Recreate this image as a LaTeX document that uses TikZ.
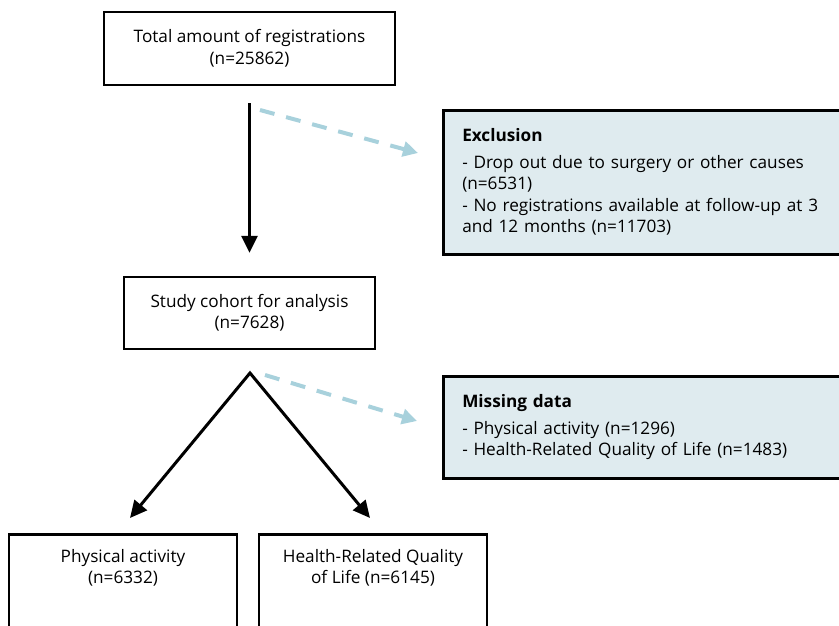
\documentclass[tikz,border=0pt]{standalone}
\usepackage{fontspec}
\setmainfont{Open Sans}
\usetikzlibrary{arrows.meta}
\definecolor{panelfill}{HTML}{DFEBEF}
\definecolor{skipline}{HTML}{A8D1DC}
\begin{document}
\begin{tikzpicture}[x=1pt,y=-1pt,
  font=\fontsize{17.2}{21.5}\selectfont,
  stagebox/.style={draw=black, line width=2.5pt, fill=white, align=center, inner sep=0pt},
  notebox/.style={draw=black, line width=2.5pt, fill=panelfill, align=left,
    inner xsep=19pt, inner ysep=0pt, anchor=north west},
  flow/.style={line width=3pt, -{Triangle[length=17pt,width=16pt]}},
  skip/.style={draw=skipline, line width=4pt, dash pattern=on 15pt off 12pt,
    -{Triangle[length=15pt,width=15pt]}},
]
\useasboundingbox (0,0) rectangle (839,625);
\clip (0,0) rectangle (839,625);

% main stages
\node[stagebox, minimum width=291pt, minimum height=73pt] (total) at (249.5,48.5)
  {Total amount of registrations\\(n=25862)};
\node[stagebox, minimum width=251pt, minimum height=72pt] (cohort) at (249.5,313)
  {Study cohort for analysis\\(n=7628)};

% outcome boxes, open towards the bottom edge
\node[stagebox, minimum width=228pt, minimum height=130pt, anchor=north] (pa) at (123,533)
  {};
\node[align=center, anchor=north, inner sep=0pt] (patext) at ([yshift=-16pt]pa.north)
  {Physical activity\\(n=6332)};
\node[stagebox, minimum width=228pt, minimum height=130pt, anchor=north] (hrql) at (373,533)
  {};
\node[align=center, anchor=north, inner sep=0pt] (hrqltext) at ([yshift=-16pt]hrql.north)
  {Health-Related Quality\\of Life (n=6145)};

% side panels
\node[notebox, minimum width=420pt, minimum height=144pt, text width=382pt] (excl) at (442,109)
  {\textbf{Exclusion}\\[5pt]
   - Drop out due to surgery or other causes\\
   (n=6531)\\
   - No registrations available at follow-up at 3\\
   and 12 months (n=11703)};
\node[notebox, minimum width=420pt, minimum height=102pt, text width=382pt] (miss) at (442,375)
  {\textbf{Missing data}\\[5pt]
   - Physical activity (n=1296)\\
   - Health-Related Quality of Life (n=1483)};

% flow arrows
\draw[flow, shorten <=17pt, shorten >=23pt] (total) -- (cohort);
\coordinate (fork) at (250,373);
\coordinate (paTip) at (130,518);
\coordinate (hrqlTip) at (370,518);
\draw[line width=3pt, line join=miter,
  {Triangle[length=17pt,width=16pt]}-{Triangle[length=17pt,width=16pt]}]
  (paTip) -- (fork) -- (hrqlTip);

% dashed arrows towards the side panels
\coordinate (exclFrom) at (260,110);
\coordinate (exclTo) at (418,153);
\draw[skip] (exclFrom) -- (exclTo);
\coordinate (missFrom) at (265,375);
\coordinate (missTo) at (417,421);
\draw[skip] (missFrom) -- (missTo);
\end{tikzpicture}
\end{document}
